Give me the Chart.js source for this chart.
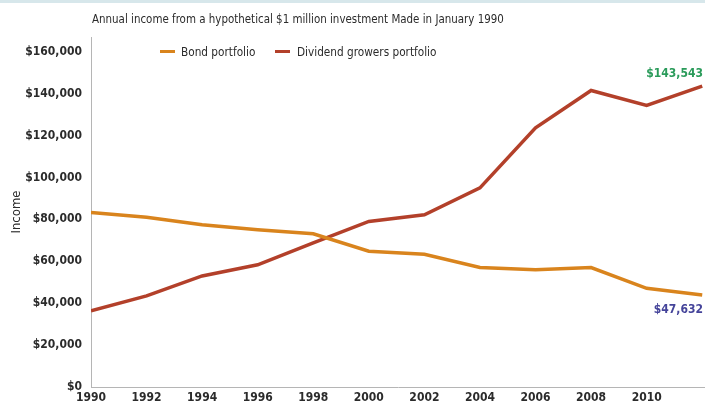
<!DOCTYPE html>
<html>
<head>
<meta charset="utf-8">
<script src="https://cdn.jsdelivr.net/npm/chart.js@4"></script>
<style>
    body { margin: 0; background: #fff; }
    #wrap { position: relative; width: 705px; height: 409px; border-top: 3px solid #d7e7eb; box-sizing: border-box; }
    #wrap canvas { position: absolute; left: 0; top: -3px; }
    .txt { position: absolute; font-family: 'Liberation Sans Narrow', 'DejaVu Sans Condensed', sans-serif; color: #2b2b2b; font-size: 12px; white-space: nowrap; }
    .mark { position: absolute; width: 15px; height: 3px; }
</style>
</head>
<body>
<div id="wrap">
    <canvas id="lineA" width="705" height="409"></canvas>
    <div class="txt" id="title" style="left:92px; top:8px; font-size:13px; transform:scaleX(0.88); transform-origin:left center;"></div>
    <span class="mark" id="mark0" style="left:160px; top:47px;"></span>
    <div class="txt" id="leg0" style="left:181px; top:41px; font-size:13px; transform:scaleX(0.9); transform-origin:left center;"></div>
    <span class="mark" id="mark1" style="left:275px; top:47px;"></span>
    <div class="txt" id="leg1" style="left:297px; top:41px; font-size:13px; transform:scaleX(0.9); transform-origin:left center;"></div>
</div>
<script>
// 資料
const chartTitle = 'Annual income from a hypothetical $1 million investment Made in January 1990';
const years = [1990, 1992, 1994, 1996, 1998, 2000, 2002, 2004, 2006, 2008, 2010, 2012];
const bondValues = [83300, 81000, 77400, 75000, 73100, 64800, 63300, 57000, 55900, 57000, 47100, 43900];
const dividendValues = [36300, 43500, 53000, 58300, 68800, 79000, 82200, 95000, 123700, 141500, 134400, 143543];
const seriesNames = ['Bond portfolio', 'Dividend growers portfolio'];
const seriesColors = ['#d9841d', '#b3402a'];
const endLabels = ['$47,632', '$143,543'];
const endLabelColors = ['#45449a', '#2a9b5a'];
const xTickYears = [1990, 1992, 1994, 1996, 1998, 2000, 2002, 2004, 2006, 2008, 2010];
const yTickValues = [0, 20000, 40000, 60000, 80000, 100000, 120000, 140000, 160000];

const fontFamily = "'Liberation Sans Narrow', 'DejaVu Sans Condensed', sans-serif";

document.getElementById('title').textContent = chartTitle;
seriesNames.forEach((name, i) => {
    document.getElementById('leg' + i).textContent = name;
    document.getElementById('mark' + i).style.background = seriesColors[i];
});

// 終點數值標籤
const endLabelPlugin = {
    id: 'endLabels',
    afterDatasetsDraw(chart) {
        const c = chart.ctx;
        const ys = chart.scales.y;
        c.save();
        c.font = 'bold 12px ' + fontFamily;
        c.textAlign = 'right';
        chart.data.datasets.forEach((ds, i) => {
            const last = ds.data[ds.data.length - 1];
            const px = chart.chartArea.right - 2;
            const py = ys.getPixelForValue(last.y);
            c.fillStyle = endLabelColors[i];
            if (i === 0) {
                c.textBaseline = 'top';
                c.fillText(endLabels[i], px, py + 9);
            } else {
                c.textBaseline = 'bottom';
                c.fillText(endLabels[i], px, py - 6);
            }
        });
        c.restore();
    }
};

let ctx = document.getElementById('lineA');
new Chart(ctx, {
    type: 'line',
    data: {
        datasets: [
            {
                label: seriesNames[0],
                data: years.map((y, i) => ({ x: y, y: bondValues[i] })),
                borderColor: seriesColors[0],
                borderWidth: 3.5,
                pointRadius: 0,
                tension: 0
            },
            {
                label: seriesNames[1],
                data: years.map((y, i) => ({ x: y, y: dividendValues[i] })),
                borderColor: seriesColors[1],
                borderWidth: 3.5,
                pointRadius: 0,
                tension: 0
            }
        ]
    },
    options: {
        responsive: false,
        animation: false,
        layout: { padding: { top: 37, right: 0, left: 0, bottom: 0 } },
        plugins: {
            legend: { display: false },
            tooltip: { enabled: false }
        },
        scales: {
            x: {
                type: 'linear',
                min: 1990,
                max: 2012.1,
                afterBuildTicks: (scale) => { scale.ticks = xTickYears.map(v => ({ value: v })); },
                afterFit: (scale) => { scale.height = 22; },
                grid: { display: false, drawTicks: false },
                border: { color: '#b5b5b5', width: 1 },
                ticks: {
                    color: '#2b2b2b',
                    padding: 4,
                    maxRotation: 0,
                    autoSkip: false,
                    font: { family: fontFamily, size: 12, weight: 'bold' },
                    callback: (v) => String(v)
                }
            },
            y: {
                min: 0,
                max: 167000,
                afterBuildTicks: (scale) => { scale.ticks = yTickValues.map(v => ({ value: v })); },
                afterFit: (scale) => { scale.width = 91; },
                grid: { display: false, drawTicks: false },
                border: { color: '#b5b5b5', width: 1 },
                title: {
                    display: true,
                    text: 'Income',
                    color: '#2b2b2b',
                    padding: { top: 9, bottom: 0 },
                    font: { family: fontFamily, size: 13 }
                },
                ticks: {
                    color: '#2b2b2b',
                    padding: 9,
                    font: { family: fontFamily, size: 12, weight: 'bold' },
                    callback: (v) => '$' + v.toLocaleString('en-US')
                }
            }
        }
    },
    plugins: [endLabelPlugin]
});
</script>
</body>
</html>
